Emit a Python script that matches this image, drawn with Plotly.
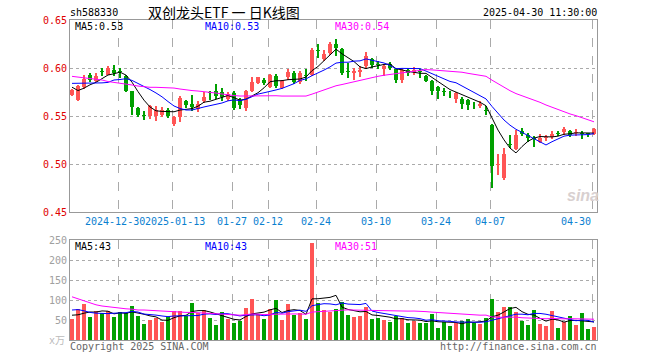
import plotly.graph_objects as go
import pandas as pd

# ---------------- data ----------------
open_ = [0.572, 0.567, 0.580, 0.5925, 0.586, 0.5965, 0.593, 0.598, 0.596, 0.592,
         0.576, 0.5585, 0.551, 0.550, 0.550, 0.551, 0.556, 0.5415, 0.549, 0.5655,
         0.563, 0.5575, 0.5655, 0.5745, 0.5757, 0.5755, 0.568, 0.574, 0.5665, 0.5585,
         0.576, 0.5845, 0.588, 0.5805, 0.592, 0.5795, 0.591, 0.595, 0.585, 0.592,
         0.593, 0.618, 0.6097, 0.616, 0.625, 0.6195, 0.596, 0.5945, 0.5956, 0.602,
         0.609, 0.6035, 0.5985, 0.6045, 0.599, 0.588, 0.598, 0.596, 0.596, 0.5915,
         0.586, 0.580, 0.576, 0.574, 0.568, 0.568, 0.5665, 0.5615, 0.5605, 0.556,
         0.541, 0.499, 0.4855, 0.520, 0.516, 0.534, 0.5305, 0.527, 0.523, 0.5275,
         0.528, 0.532, 0.5335, 0.5345, 0.532, 0.532, 0.5312, 0.5315]
high = [0.5785, 0.582, 0.5925, 0.595, 0.5945, 0.6005, 0.6025, 0.6035, 0.6005, 0.5925,
        0.5765, 0.559, 0.555, 0.561, 0.5605, 0.559, 0.558, 0.550, 0.5705, 0.567,
        0.5715, 0.566, 0.575, 0.576, 0.583, 0.579, 0.575, 0.576, 0.569, 0.577,
        0.5905, 0.591, 0.5895, 0.594, 0.594, 0.588, 0.5985, 0.597, 0.597, 0.599,
        0.6205, 0.6245, 0.619, 0.627, 0.630, 0.621, 0.6055, 0.5995, 0.602, 0.6165,
        0.610, 0.607, 0.6035, 0.606, 0.600, 0.599, 0.5995, 0.6015, 0.599, 0.593,
        0.587, 0.581, 0.579, 0.576, 0.5755, 0.5695, 0.568, 0.5645, 0.5655, 0.5605,
        0.5415, 0.510, 0.5165, 0.530, 0.5355, 0.538, 0.532, 0.529, 0.531, 0.530,
        0.534, 0.5342, 0.539, 0.5355, 0.536, 0.534, 0.5325, 0.537]
low = [0.5705, 0.566, 0.578, 0.5855, 0.5855, 0.5915, 0.5925, 0.5915, 0.590, 0.5745,
       0.551, 0.549, 0.5455, 0.547, 0.545, 0.549, 0.548, 0.540, 0.5435, 0.558,
       0.5555, 0.554, 0.564, 0.567, 0.568, 0.566, 0.566, 0.556, 0.5575, 0.555,
       0.575, 0.5835, 0.582, 0.579, 0.5795, 0.578, 0.588, 0.583, 0.5835, 0.586,
       0.592, 0.6105, 0.607, 0.614, 0.613, 0.593, 0.590, 0.587, 0.591, 0.6005,
       0.600, 0.5985, 0.592, 0.598, 0.584, 0.5845, 0.5915, 0.5925, 0.590, 0.585,
       0.572, 0.568, 0.5705, 0.569, 0.564, 0.557, 0.556, 0.5575, 0.5585, 0.551,
       0.475, 0.489, 0.4835, 0.5165, 0.515, 0.529, 0.523, 0.5175, 0.522, 0.524,
       0.5265, 0.529, 0.5305, 0.528, 0.529, 0.5265, 0.528, 0.530]
close = [0.577, 0.581, 0.5885, 0.587, 0.592, 0.596, 0.600, 0.595, 0.5955, 0.5765,
         0.559, 0.551, 0.5505, 0.560, 0.5565, 0.556, 0.5505, 0.549, 0.569, 0.561,
         0.559, 0.563, 0.570, 0.574, 0.5705, 0.5695, 0.573, 0.5585, 0.561, 0.5757,
         0.5855, 0.5905, 0.584, 0.5925, 0.581, 0.586, 0.5957, 0.585, 0.595, 0.5915,
         0.619, 0.6175, 0.615, 0.6255, 0.621, 0.595, 0.5955, 0.5965, 0.598, 0.612,
         0.6035, 0.603, 0.602, 0.6005, 0.587, 0.598, 0.5945, 0.5975, 0.5955, 0.5865,
         0.576, 0.576, 0.5755, 0.5735, 0.5735, 0.563, 0.5615, 0.561, 0.5625, 0.5555,
         0.4977, 0.500, 0.510, 0.5195, 0.5305, 0.531, 0.5275, 0.5265, 0.5275, 0.528,
         0.5315, 0.5315, 0.5365, 0.530, 0.5325, 0.5315, 0.531, 0.536]
volume = [52.5, 76.7, 90, 56.7, 73.3, 66.7, 73.3, 56.7, 70, 66.7,
          85, 60, 40, 50, 54, 45, 56.7, 73.3, 73.3, 60,
          93.3, 66.7, 75, 55.8, 37.5, 70, 51.7, 43.3, 48.3, 80.8,
          102.5, 65, 51.7, 76.7, 100, 50, 90, 62.5, 66.7, 51.7,
          243.3, 91.7, 75, 71, 77.5, 95.8, 62.5, 56.7, 60, 81.7,
          52.5, 55.8, 50, 45, 60.8, 55.8, 41.7, 48.3, 41.7, 43.3,
          65, 30, 45.8, 35, 43.3, 48.3, 51.7, 41.7, 40, 55,
          102.5, 70.8, 82.5, 82.5, 70, 48.3, 37.5, 75, 40, 35,
          72.5, 30, 45.8, 60, 37.5, 67.5, 27.5, 33.3]

# moving-average values before enough history exists
ma5_head = [0.580, 0.5765, 0.579, 0.5825]
ma10_head = [0.584, 0.584, 0.584, 0.584, 0.5845, 0.5845, 0.585, 0.5875, 0.588]
ma30_head = [0.5913, 0.5906, 0.5896, 0.5885, 0.588, 0.5875, 0.5859, 0.5851, 0.5844, 0.5833,
             0.5823, 0.5812, 0.5802, 0.5799, 0.5799, 0.5797, 0.5797, 0.5791, 0.5781, 0.5771,
             0.5765, 0.576, 0.5755, 0.575, 0.5739, 0.5729, 0.5719, 0.5713, 0.5708]
vma5_head = [62, 63, 67, 70]
vma10_head = [75, 76, 73, 69, 67, 66, 66, 67, 68]
vma30_head = [108, 103, 97, 92, 88, 85, 83, 81, 79, 78, 77, 75, 75, 74, 73, 72, 71, 70, 70,
              69, 69, 68, 67, 66, 65, 64, 63, 62.5, 62]

tick_idx = [8, 17, 27, 33, 41, 51, 61, 70, 87]
tick_text = ["2024-12-30", "2025-01-13", "01-27", "02-12", "02-24",
             "03-10", "03-24", "04-07", "04-30"]
price_ticks = [0.45, 0.50, 0.55, 0.60, 0.65]
vol_ticks = [50, 100, 150, 200, 250]

# ---------------- derived ----------------
n = len(close)
x = list(range(n))
RED, GREEN = '#FF5555', '#00A000'
colors = [RED if c >= o else GREEN for o, c in zip(open_, close)]


def ma(values, win, head):
    s = pd.Series(values, dtype=float).rolling(win).mean().tolist()
    return list(head) + s[len(head):]


ma5 = ma(close, 5, ma5_head)
ma10 = ma(close, 10, ma10_head)
ma30 = ma(close, 30, ma30_head)
vma5 = ma(volume, 5, vma5_head)
vma10 = ma(volume, 10, vma10_head)
vma30 = ma(volume, 30, vma30_head)

body_base = [min(o, c) for o, c in zip(open_, close)]
body_h = [max(abs(c - o), 0.0009) for o, c in zip(open_, close)]
wick_h = [h - l for h, l in zip(high, low)]

W, H = 660, 360
PX0, PX1 = 70, 597
MONO = "DejaVu Sans Mono, Liberation Mono, monospace"

fig = go.Figure()
# wicks
fig.add_trace(go.Bar(x=x, y=wick_h, base=low, width=0.18, marker=dict(color=colors, line=dict(width=0)),
                     xaxis='x', yaxis='y', hoverinfo='skip'))
# bodies
fig.add_trace(go.Bar(x=x, y=body_h, base=body_base, width=0.72, marker=dict(color=colors, line=dict(width=0)),
                     xaxis='x', yaxis='y', hoverinfo='skip'))
for vals, col in [(ma5, 'black'), (ma10, '#0000FF'), (ma30, '#FF00FF')]:
    fig.add_trace(go.Scatter(x=x, y=vals, mode='lines', line=dict(color=col, width=1),
                             xaxis='x', yaxis='y', hoverinfo='skip'))
# volume
fig.add_trace(go.Bar(x=x, y=volume, width=0.75, marker=dict(color=colors, line=dict(width=0)),
                     xaxis='x2', yaxis='y2', hoverinfo='skip'))
for vals, col in [(vma5, 'black'), (vma10, '#0000FF'), (vma30, '#FF00FF')]:
    fig.add_trace(go.Scatter(x=x, y=vals, mode='lines', line=dict(color=col, width=1),
                             xaxis='x2', yaxis='y2', hoverinfo='skip'))

grid_x = [i - 0.28 for i in tick_idx]
xcommon = dict(domain=[PX0 / W, PX1 / W], range=[-1 / 3, n - 0.5], tickmode='array', tickvals=grid_x,
               showticklabels=False, ticks='', showgrid=True, gridcolor='#AAAAAA', griddash='dash',
               gridwidth=1, showline=True, mirror=True, linecolor='#999999', linewidth=1,
               zeroline=False, fixedrange=True, automargin=False)
ycommon = dict(showgrid=True, gridcolor='#AAAAAA', griddash='dot', gridwidth=1, ticks='',
               showline=True, mirror=True, linecolor='#999999', linewidth=1, zeroline=False,
               fixedrange=True, tickmode='array', automargin=False)

fig.update_layout(
    width=W, height=H, margin=dict(l=0, r=0, t=0, b=0, autoexpand=False),
    paper_bgcolor='white', plot_bgcolor='white', showlegend=False,
    barmode='overlay', bargap=0,
    xaxis=dict(**xcommon, anchor='y'),
    xaxis2=dict(**xcommon, anchor='y2'),
    yaxis=dict(**ycommon, anchor='x', domain=[1 - 212 / H, 1 - 20 / H], range=[0.45, 0.65],
               tickvals=price_ticks, ticktext=[f"{v:.2f}" for v in price_ticks],
               tickfont=dict(family=MONO, size=10, color='#E00000')),
    yaxis2=dict(**ycommon, anchor='x2', domain=[1 - 340 / H, 1 - 240 / H], range=[0, 250],
                tickvals=vol_ticks, ticktext=[str(v) for v in vol_ticks],
                tickfont=dict(family=MONO, size=10, color='#A0A0A0')),
)


def ann(text, x0, y0, color='black', anchor='left', size=10, family=MONO, xref='paper', **kw):
    fig.add_annotation(text=text, x=(x0 / W if xref == 'paper' else x0), y=1 - y0 / H,
                       xref=xref, yref='paper', xanchor=anchor, yanchor='middle',
                       showarrow=False, font=dict(family=family, size=size, color=color),
                       borderpad=0, **kw)


ann("sh588330", 69, 13)
ann("双创龙头ETF 一 日K线图", 224, 11.5, anchor='center', size=14,
    family="Noto Sans CJK SC, sans-serif")
ann("2025-04-30 11:30:00", 598, 13, anchor='right')
ann("MA5:0.53", 74, 26.5)
ann("MA10:0.53", 204, 26.5, color='#0000FF')
ann("MA30:0.54", 334, 26.5, color='#FF00FF')
ann("MA5:43", 74, 246.5)
ann("MA10:43", 204, 246.5, color='#0000FF')
ann("MA30:51", 334, 246.5, color='#FF00FF')
ann("Copyright 2025 SINA.COM", 69, 346, color='#666666')
ann("http://finance.sina.com.cn", 598, 346, color='#666666', anchor='right')
ann("x万", 66, 340.5, color='#BBBBBB', anchor='right', family=MONO + ", Noto Sans CJK SC")
ann("<b><i>sina</i></b>", 583, 196, color='#D8D0D0', anchor='center', size=16,
    family="Liberation Sans, Arial, sans-serif")

# date labels: first two nudged apart slightly so they only touch
nudge = [-0.5, 0.5, 0, 0, 0, 0, 0, 0, 0]
for k, (gx, t) in enumerate(zip(grid_x, tick_text)):
    ann(t, gx + nudge[k], 221.5, color='#0A80D0',
        anchor=('right' if k == len(grid_x) - 1 else 'center'), xref='x')

fig.write_html("out.html",
               config={'displayModeBar': False, 'staticPlot': True},
               post_script="document.body.style.margin='0';document.body.style.padding='0';"
                           "document.documentElement.style.margin='0';")
